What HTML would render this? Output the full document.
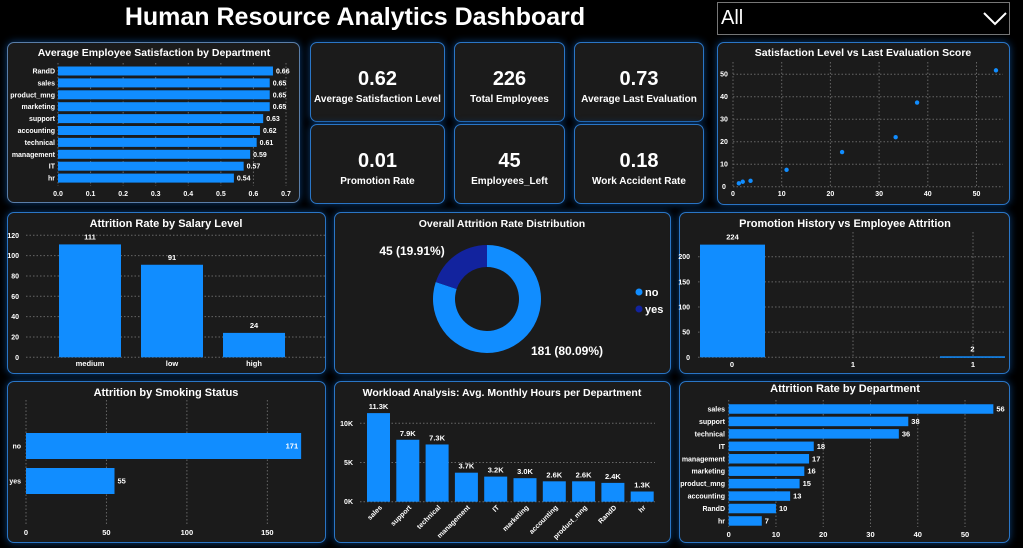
<!DOCTYPE html>
<html><head><meta charset="utf-8">
<style>
body{margin:0;width:1023px;height:548px;background:#000;overflow:hidden;font-family:"Liberation Sans",sans-serif;position:relative}
.p{position:absolute;background:#1b1b1b;border:1.5px solid #2a76c6;border-radius:7px;box-shadow:0 0 8px #0b3d77;box-sizing:border-box}
.kpi{color:#fff;text-align:center;font-weight:bold}
.kpi .v{font-size:20px;margin-top:25px}
.kpi .l{font-size:10px;margin-top:3px}
#title{position:absolute;left:120px;top:3px;width:470px;text-align:center;color:#fff;font-weight:bold;font-size:25px}
#dd{position:absolute;left:717px;top:2px;width:293px;height:33px;border:1.5px solid #777;box-sizing:border-box;color:#fff;font-size:20px}
svg{position:absolute;left:0;top:0}
</style></head><body>
<div id="title">Human Resource Analytics Dashboard</div>
<div id="dd"><span style="position:absolute;left:3px;top:4px">All</span>
<svg width="30" height="20" style="left:263px;top:7px"><polyline points="3,3 14,14 25,3" fill="none" stroke="#fff" stroke-width="2"/></svg></div>

<div class="p" style="left:7px;top:42px;width:293px;height:161px;border-color:#5a7ea8"></div>
<div class="p kpi" style="left:310px;top:42px;width:135px;height:80px"><div class="v">0.62</div><div class="l">Average Satisfaction Level</div></div>
<div class="p kpi" style="left:454px;top:42px;width:111px;height:80px"><div class="v">226</div><div class="l">Total Employees</div></div>
<div class="p kpi" style="left:574px;top:42px;width:130px;height:80px"><div class="v">0.73</div><div class="l">Average Last Evaluation</div></div>
<div class="p kpi" style="left:310px;top:124px;width:135px;height:80px"><div class="v">0.01</div><div class="l">Promotion Rate</div></div>
<div class="p kpi" style="left:454px;top:124px;width:111px;height:80px"><div class="v">45</div><div class="l">Employees_Left</div></div>
<div class="p kpi" style="left:574px;top:124px;width:130px;height:80px"><div class="v">0.18</div><div class="l">Work Accident Rate</div></div>
<div class="p" style="left:717px;top:42px;width:293px;height:163px"></div>
<div class="p" style="left:7px;top:212px;width:319px;height:162px"></div>
<div class="p" style="left:334px;top:212px;width:337px;height:162px"></div>
<div class="p" style="left:679px;top:212px;width:331px;height:162px"></div>
<div class="p" style="left:7px;top:381px;width:319px;height:162px"></div>
<div class="p" style="left:334px;top:381px;width:337px;height:162px"></div>
<div class="p" style="left:679px;top:381px;width:331px;height:162px"></div>

<svg id="s" width="1023" height="548" font-family="Liberation Sans, sans-serif" font-weight="bold"></svg>
<script>
const satDepts=["RandD","sales","product_mng","marketing","support","accounting","technical","management","IT","hr"];
const satVals=[0.66,0.65,0.65,0.65,0.63,0.62,0.61,0.59,0.57,0.54];
const satTicks=[0,0.1,0.2,0.3,0.4,0.5,0.6,0.7];
const scX=[1.2,2,3.6,11,22.4,33.4,37.8,54];
const scY=[1.5,2.2,2.6,7.5,15.4,22,37.4,51.7];
const scTicks=[0,10,20,30,40,50];
const salCats=["medium","low","high"];
const salVals=[111,91,24];
const salTicks=[0,20,40,60,80,100,120];
const donutCats=["no","yes"];
const donutVals=[181,45];
const promoCats=["0","1","1"];
const promoVals=[224,0,2];
const promoTicks=[0,50,100,150,200];
const smokeCats=["no","yes"];
const smokeVals=[171,55];
const smokeTicks=[0,50,100,150];
const wlCats=["sales","support","technical","management","IT","marketing","accounting","product_mng","RandD","hr"];
const wlVals=[11.3,7.9,7.3,3.7,3.2,3.0,2.6,2.6,2.4,1.3];
const wlTicks=[0,5,10];
const attCats=["sales","support","technical","IT","management","marketing","product_mng","accounting","RandD","hr"];
const attVals=[56,38,36,18,17,16,15,13,10,7];
const attTicks=[0,10,20,30,40,50];

const S=document.getElementById('s');const NS="http://www.w3.org/2000/svg";
const BLUE="#118dff";
function el(t,a,txt){const e=document.createElementNS(NS,t);for(const k in a)e.setAttribute(k,a[k]);if(txt!==undefined)e.textContent=txt;S.appendChild(e);return e;}
function txt(x,y,s,size,anchor,name){const e=el('text',{x:x,y:y,fill:'#fff','font-size':size,'text-anchor':anchor||'middle'},s);

return e;}
function grid(x1,y1,x2,y2){const e=el('line',{x1:x1,y1:y1,x2:x2,y2:y2,stroke:'#666','stroke-dasharray':'1.5,2','stroke-width':1});

}
function rect(x,y,w,h,name,c){const e=el('rect',{x:x,y:y,width:Math.max(w,0),height:Math.max(h,0),fill:c||BLUE});

return e;}

txt(154,56,"Average Employee Satisfaction by Department",10.5,'middle','chart-title');
txt(863,56,"Satisfaction Level vs Last Evaluation Score",10.5,'middle','chart-title');
txt(166,227,"Attrition Rate by Salary Level",11,'middle','chart-title');
txt(502,227,"Overall Attrition Rate Distribution",10.5,'middle','chart-title');
txt(845,227,"Promotion History vs Employee Attrition",11,'middle','chart-title');
txt(166,396,"Attrition by Smoking Status",11,'middle','chart-title');
txt(502,396,"Workload Analysis: Avg. Monthly Hours per Department",10.5,'middle','chart-title');
txt(845,392,"Attrition Rate by Department",11,'middle','chart-title');

(function(){const x0=58,x1=286,max=0.7,y0=71,step=11.9,h=9;
const sx=v=>x0+(v/max)*(x1-x0);
satTicks.forEach(t=>{grid(sx(t),63,sx(t),186);txt(sx(t),196,t.toFixed(1),7);});
satDepts.forEach((d,i)=>{const y=y0+i*step;rect(x0,y-h/2,sx(satVals[i])-x0,h,'bar-sat-'+d);
txt(55,y+2.5,d,7,'end','category-label');txt(sx(satVals[i])+3,y+2.5,satVals[i].toFixed(2),7,'start','value-label');});})();

(function(){const sx=v=>733+v*4.87,sy=v=>186.7-v*2.25;
scTicks.forEach(t=>{grid(sx(t),62,sx(t),187);grid(733,sy(t),1003,sy(t));txt(sx(t),196,t,7);txt(724,sy(t)+2.5,t,7);});
scX.forEach((x,i)=>{const c=el('circle',{cx:sx(x),cy:sy(scY[i]),r:2.2,fill:BLUE});

});})();

(function(){const sy=v=>357.3-v*1.017,xs=[59,141,223],w=62;
salTicks.forEach(t=>{grid(26,sy(t),325,sy(t));txt(19,sy(t)+2.5,t,7,'end');});
salCats.forEach((c,i)=>{rect(xs[i],sy(salVals[i]),w,sy(0)-sy(salVals[i]),'bar-salary-'+c);
txt(xs[i]+w/2,sy(salVals[i])-5,salVals[i],7.5,'middle','value-label');txt(xs[i]+w/2,366,c,7.5,'middle','category-label');});})();

(function(){const cx=487,cy=299,R=54,r=32;const tot=donutVals.reduce((a,b)=>a+b,0);const cols=[BLUE,"#12239e"];
let a=0;donutVals.forEach((v,i)=>{const a2=a+v/tot*2*Math.PI;const p=(ang,rr)=>[cx+rr*Math.sin(ang),cy-rr*Math.cos(ang)];
const [x1,y1]=p(a,R),[x2,y2]=p(a2,R),[x3,y3]=p(a2,r),[x4,y4]=p(a,r);const lg=(a2-a)>Math.PI?1:0;
const e=el('path',{d:`M${x1},${y1}A${R},${R} 0 ${lg} 1 ${x2},${y2}L${x3},${y3}A${r},${r} 0 ${lg} 0 ${x4},${y4}Z`,fill:cols[i]});

a=a2;});
txt(412,255,donutVals[1]+" ("+(donutVals[1]/tot*100).toFixed(2)+"%)",12,'middle','donut-label-yes');
txt(567,355,donutVals[0]+" ("+(donutVals[0]/tot*100).toFixed(2)+"%)",12,'middle','donut-label-no');
donutCats.forEach((c,i)=>{const d=el('circle',{cx:639,cy:292+i*17,r:3.5,fill:cols[i]});

txt(645,296+i*17,c,11,'start','legend-entry');});})();

(function(){const sy=v=>357.3-v*0.503,xs=[700,820,940],w=65,cxs=[732,853,973];
promoTicks.forEach(t=>{grid(698,sy(t),1006,sy(t));txt(690,sy(t)+2.5,t,7,'end');});
grid(853,232,853,357);grid(973,232,973,357);
promoCats.forEach((c,i)=>{if(promoVals[i]>0){rect(xs[i],sy(promoVals[i]),w,Math.max(sy(0)-sy(promoVals[i]),1.5),'bar-promo-'+i);
txt(xs[i]+w/2,sy(promoVals[i])-5,promoVals[i],7.5,'middle','value-label');}
txt(cxs[i],367,c,7.5,'middle','category-label');});})();

(function(){const sx=v=>26+v*1.609,ys=[433,468],h=26;
smokeTicks.forEach(t=>{grid(sx(t),400,sx(t),524);txt(sx(t),535,t,7.5);});
smokeCats.forEach((c,i)=>{rect(26,ys[i],sx(smokeVals[i])-26,h,'bar-smoking-'+c);txt(21,ys[i]+h/2+2.5,c,7,'end','category-label');
const inside=smokeVals[i]>120;txt(inside?sx(smokeVals[i])-3:sx(smokeVals[i])+3,ys[i]+h/2+2.5,smokeVals[i],7.5,inside?'end':'start','value-label');});})();

(function(){const sy=v=>501.7-v*7.84,x0=367,step=29.3,w=23;
wlTicks.forEach(t=>{grid(360,sy(t),655,sy(t));txt(353,sy(t)+2.5,t+"K",7,'end');});
wlCats.forEach((c,i)=>{const x=x0+i*step;rect(x,sy(wlVals[i]),w,sy(0)-sy(wlVals[i]),'bar-workload-'+c);
txt(x+w/2,sy(wlVals[i])-4,wlVals[i].toFixed(1)+"K",7.5,'middle','value-label');
const t=txt(x+w/2+4,508,c,7,'end','category-label');t.setAttribute('transform',`rotate(-45 ${x+w/2+4} 508)`);});})();

(function(){const sx=v=>728.7+v*4.726,y0=409,step=12.44,h=9.5;
attTicks.forEach(t=>{grid(sx(t),400,sx(t),527);txt(sx(t),537,t,7.5);});
attCats.forEach((c,i)=>{const y=y0+i*step;rect(728.7,y-h/2,sx(attVals[i])-728.7,h,'bar-attrition-'+c);
txt(725,y+2.5,c,7,'end','category-label');txt(sx(attVals[i])+3,y+2.5,attVals[i],7.5,'start','value-label');});})();
</script>
</body></html>
